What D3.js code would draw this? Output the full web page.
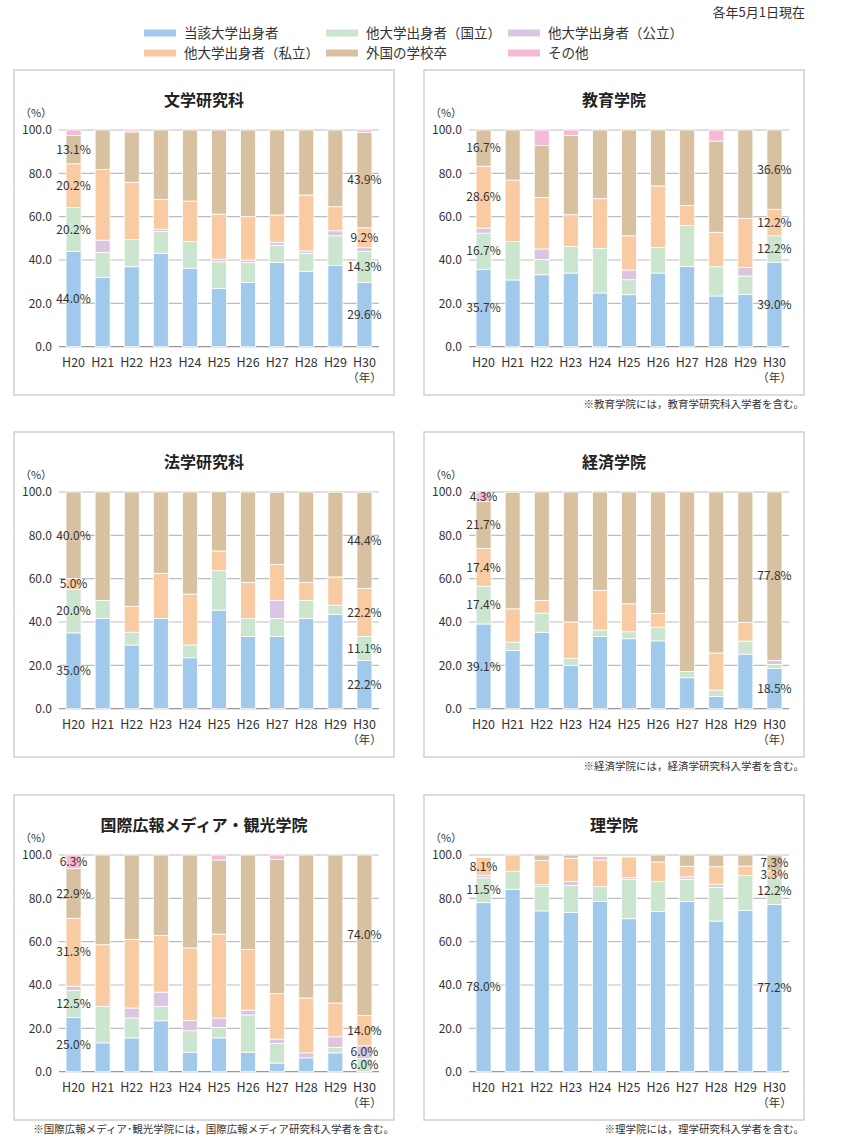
<!DOCTYPE html>
<html>
<head>
<meta charset="utf-8">
<script src="https://cdn.jsdelivr.net/npm/d3@7"></script>
<style>
  body { margin: 0; background: #fff; }
  text { font-family: "Noto Sans CJK JP", "Noto Sans", sans-serif; fill: #333; }
</style>
</head>
<body>
<div id="chart"></div>
<script>
// categories and series
const years = ["H20", "H21", "H22", "H23", "H24", "H25", "H26", "H27", "H28", "H29", "H30"];
const seriesNames = ["当該大学出身者", "他大学出身者（国立）", "他大学出身者（公立）",
                     "他大学出身者（私立）", "外国の学校卒", "その他"];
const yTicks = [0, 20, 40, 60, 80, 100];

const panelTitles = ["文学研究科", "教育学院", "法学研究科", "経済学院",
                     "国際広報メディア・観光学院", "理学院"];
const panelNotes = ["", "※教育学院には，教育学研究科入学者を含む。",
                    "", "※経済学院には，経済学研究科入学者を含む。",
                    "※国際広報メディア･観光学院には，国際広報メディア研究科入学者を含む。",
                    "※理学院には，理学研究科入学者を含む。"];

// one row per year: [当該, 国立, 公立, 私立, 外国, その他]
const bungaku = [
  [44.0, 20.2, 0, 20.2, 13.1, 2.5],
  [32.0, 11.5, 5.7, 32.6, 18.2, 0],
  [36.9, 12.5, 0, 26.4, 23.3, 0.9],
  [43.1, 10.1, 1.0, 13.8, 32.0, 0],
  [36.2, 12.3, 0, 18.7, 32.8, 0],
  [26.8, 12.4, 1.2, 20.8, 38.8, 0],
  [29.7, 9.1, 1.2, 20.0, 40.0, 0],
  [38.9, 7.9, 1.4, 12.6, 39.2, 0],
  [34.8, 8.3, 1.1, 25.8, 30.0, 0],
  [37.5, 13.7, 2.3, 11.1, 35.4, 0],
  [29.6, 14.3, 1.8, 9.2, 43.9, 1.2]
];
const kyoiku = [
  [35.7, 16.7, 2.3, 28.6, 16.7, 0],
  [30.8, 17.7, 0, 28.4, 23.1, 0],
  [33.2, 7.1, 4.8, 23.8, 24.0, 7.1],
  [34.0, 12.2, 0, 14.7, 36.6, 2.5],
  [24.8, 20.6, 0, 22.9, 31.7, 0],
  [24.0, 6.9, 4.5, 15.8, 48.8, 0],
  [34.0, 11.8, 0, 28.4, 25.8, 0],
  [37.1, 18.9, 0, 9.1, 34.9, 0],
  [23.4, 13.5, 0, 15.9, 42.1, 5.1],
  [24.2, 8.4, 4.0, 22.6, 40.8, 0],
  [39.0, 12.2, 0, 12.2, 36.6, 0]
];
const hogaku = [
  [35.0, 20.0, 0, 5.0, 40.0, 0],
  [41.7, 8.3, 0, 0, 50.0, 0],
  [29.4, 5.9, 0, 11.8, 52.9, 0],
  [41.7, 0, 0, 20.8, 37.5, 0],
  [23.5, 5.9, 0, 23.5, 47.1, 0],
  [45.5, 18.2, 0, 9.1, 27.3, 0],
  [33.3, 8.3, 0, 16.7, 41.7, 0],
  [33.3, 8.3, 8.3, 16.7, 33.3, 0],
  [41.7, 8.3, 0, 8.3, 41.7, 0],
  [43.5, 4.3, 0, 13.0, 39.1, 0],
  [22.2, 11.1, 0, 22.2, 44.4, 0]
];
const keizai = [
  [39.1, 17.4, 0, 17.4, 21.7, 4.3],
  [26.9, 3.8, 0, 15.4, 53.8, 0],
  [35.3, 8.8, 0, 5.9, 50.0, 0],
  [20.0, 3.3, 0, 16.7, 60.0, 0],
  [33.3, 3.0, 0, 18.2, 45.5, 0],
  [32.3, 3.2, 0, 12.9, 51.6, 0],
  [31.3, 6.3, 0, 6.3, 56.1, 0],
  [14.3, 2.9, 0, 0, 82.8, 0],
  [5.7, 2.9, 0, 17.1, 74.3, 0],
  [25.2, 6.0, 0, 8.6, 60.2, 0],
  [18.5, 1.9, 1.8, 0, 77.8, 0]
];
const kokusai = [
  [25.0, 12.5, 2.0, 31.3, 22.9, 6.3],
  [13.3, 16.9, 0, 28.4, 41.4, 0],
  [15.6, 9.2, 4.6, 31.6, 39.0, 0],
  [23.5, 6.7, 6.5, 26.2, 37.1, 0],
  [9.0, 9.9, 4.7, 33.5, 42.9, 0],
  [15.6, 4.8, 4.4, 38.7, 34.2, 2.3],
  [9.0, 17.2, 2.2, 28.0, 43.6, 0],
  [4.0, 9.0, 2.0, 21.0, 61.9, 2.1],
  [6.4, 0, 2.3, 25.3, 66.0, 0],
  [8.7, 2.5, 4.9, 15.6, 68.3, 0],
  [0, 6.0, 6.0, 14.0, 74.0, 0]
];
const rigaku = [
  [78.0, 11.5, 1.2, 8.1, 0, 0],
  [84.2, 8.3, 0, 7.5, 0, 0],
  [74.2, 11.2, 0.9, 11.2, 2.5, 0],
  [73.5, 12.4, 1.8, 10.8, 1.5, 0],
  [78.5, 6.9, 0, 12.3, 0, 1.6],
  [70.6, 18.2, 0.8, 9.5, 0, 0],
  [73.9, 13.8, 0, 9.1, 3.2, 0],
  [78.5, 10.3, 1.1, 4.9, 5.2, 0],
  [69.5, 15.6, 1.4, 8.1, 5.4, 0],
  [74.5, 16.0, 0, 4.4, 5.1, 0],
  [77.2, 12.2, 0, 3.3, 7.3, 0]
];
const panelData = [bungaku, kyoiku, hogaku, keizai, kokusai, rigaku];

const colors = ["#a0c9eb", "#cce5cf", "#dac5e2", "#f9cba3", "#d8c1a1", "#f5bad6"];

const width = 860, height = 1148;
const panelW = 380, panelH = 325;
const panelX = [14, 424];
const panelY = [70, 432, 795];
const plot = {left: 45, top: 60, width: 320, height: 216.7};

const svg = d3.select("#chart").append("svg")
  .attr("width", width)
  .attr("height", height);

// date note
svg.append("text")
  .attr("x", 805).attr("y", 12).attr("dy", "0.35em")
  .attr("text-anchor", "end")
  .style("font-size", "13px")
  .text("各年5月1日現在");

// legend, 3 columns x 2 rows
const legend = svg.append("g");
seriesNames.forEach((name, i) => {
  const col = [0, 1, 2, 0, 1, 2][i];
  const row = i < 3 ? 0 : 1;
  const g = legend.append("g")
    .attr("transform", `translate(${144 + col * 182}, ${33 + row * 20})`);
  g.append("rect")
    .attr("x", 0).attr("y", -3.5)
    .attr("width", 32).attr("height", 7)
    .attr("fill", colors[i]);
  g.append("text")
    .attr("x", 40).attr("dy", "0.35em")
    .style("font-size", "13.5px")
    .text(name);
});

const xScale = d3.scaleBand()
  .domain(years)
  .range([0, plot.width])
  .paddingInner(0.484)
  .paddingOuter(0.242);

const yScale = d3.scaleLinear()
  .domain([0, 100])
  .range([plot.height, 0]);

const stack = d3.stack().keys(d3.range(seriesNames.length));

panelData.forEach((data, p) => {
  const px = panelX[p % 2], py = panelY[Math.floor(p / 2)];
  const panel = svg.append("g").attr("transform", `translate(${px}, ${py})`);

  panel.append("rect")
    .attr("x", 0).attr("y", 0)
    .attr("width", panelW).attr("height", panelH)
    .attr("fill", "none")
    .attr("stroke", "#cfcfcf")
    .attr("stroke-width", 1.5);

  panel.append("text")
    .attr("x", panelW / 2).attr("y", 30).attr("dy", "0.35em")
    .attr("text-anchor", "middle")
    .style("font-size", "16px")
    .style("font-weight", "bold")
    .style("fill", "#222")
    .text(panelTitles[p]);

  panel.append("text")
    .attr("x", 22).attr("y", 43).attr("dy", "0.35em")
    .attr("text-anchor", "middle")
    .style("font-size", "11px")
    .text("（%）");

  const g = panel.append("g")
    .attr("transform", `translate(${plot.left}, ${plot.top})`);

  // gridlines
  g.selectAll(".grid")
    .data(yTicks)
    .enter().append("line")
    .attr("x1", 0).attr("x2", plot.width)
    .attr("y1", d => yScale(d)).attr("y2", d => yScale(d))
    .attr("stroke", d => d === 0 ? "#999" : "#bdbdbd")
    .attr("stroke-width", 1.2);

  const yAxis = d3.axisLeft(yScale)
    .tickValues(yTicks)
    .tickFormat(d3.format(".1f"))
    .tickSize(0)
    .tickPadding(7);
  const yAxisGroup = g.append("g").call(yAxis);
  yAxisGroup.select(".domain").remove();
  yAxisGroup.selectAll("text")
    .style("font-size", "12px")
    .style("font-family", null)
    .attr("fill", null);

  // stacked bars
  const series = stack(data);
  series.forEach((s, k) => {
    g.append("g")
      .selectAll("rect")
      .data(s.map((d, i) => ({y0: d[0], y1: d[1], year: years[i]})))
      .enter().append("rect")
      .filter(d => d.y1 - d.y0 > 0)
      .attr("x", d => xScale(d.year))
      .attr("width", xScale.bandwidth())
      .attr("y", d => yScale(d.y1))
      .attr("height", d => yScale(d.y0) - yScale(d.y1))
      .attr("fill", colors[k])
      .attr("stroke", "#fff")
      .attr("stroke-width", 0.8);
  });

  const xAxis = d3.axisBottom(xScale).tickSize(0).tickPadding(11);
  const xAxisGroup = g.append("g")
    .attr("transform", `translate(0, ${plot.height})`)
    .call(xAxis);
  xAxisGroup.select(".domain").remove();
  xAxisGroup.selectAll("text")
    .style("font-size", "12.5px")
    .style("font-family", null)
    .attr("fill", null);

  g.append("text")
    .attr("x", xScale("H30") + xScale.bandwidth() / 2)
    .attr("y", plot.height + 31).attr("dy", "0.35em")
    .attr("text-anchor", "middle")
    .style("font-size", "11.5px")
    .text("（年）");

  // value labels on first and last year
  [0, years.length - 1].forEach(i => {
    series.forEach((s, k) => {
      const v = data[i][k];
      if (v < 3) return;
      g.append("text")
        .attr("x", xScale(years[i]) + xScale.bandwidth() / 2)
        .attr("y", yScale((s[i][0] + s[i][1]) / 2))
        .attr("dy", "0.35em")
        .attr("text-anchor", "middle")
        .style("font-size", "12px")
        .text(v.toFixed(1) + "%");
    });
  });

  if (panelNotes[p]) {
    panel.append("text")
      .attr("x", panelW).attr("y", panelH + 9).attr("dy", "0.35em")
      .attr("text-anchor", "end")
      .style("font-size", "10.5px")
      .text(panelNotes[p]);
  }
});
</script>
</body>
</html>
